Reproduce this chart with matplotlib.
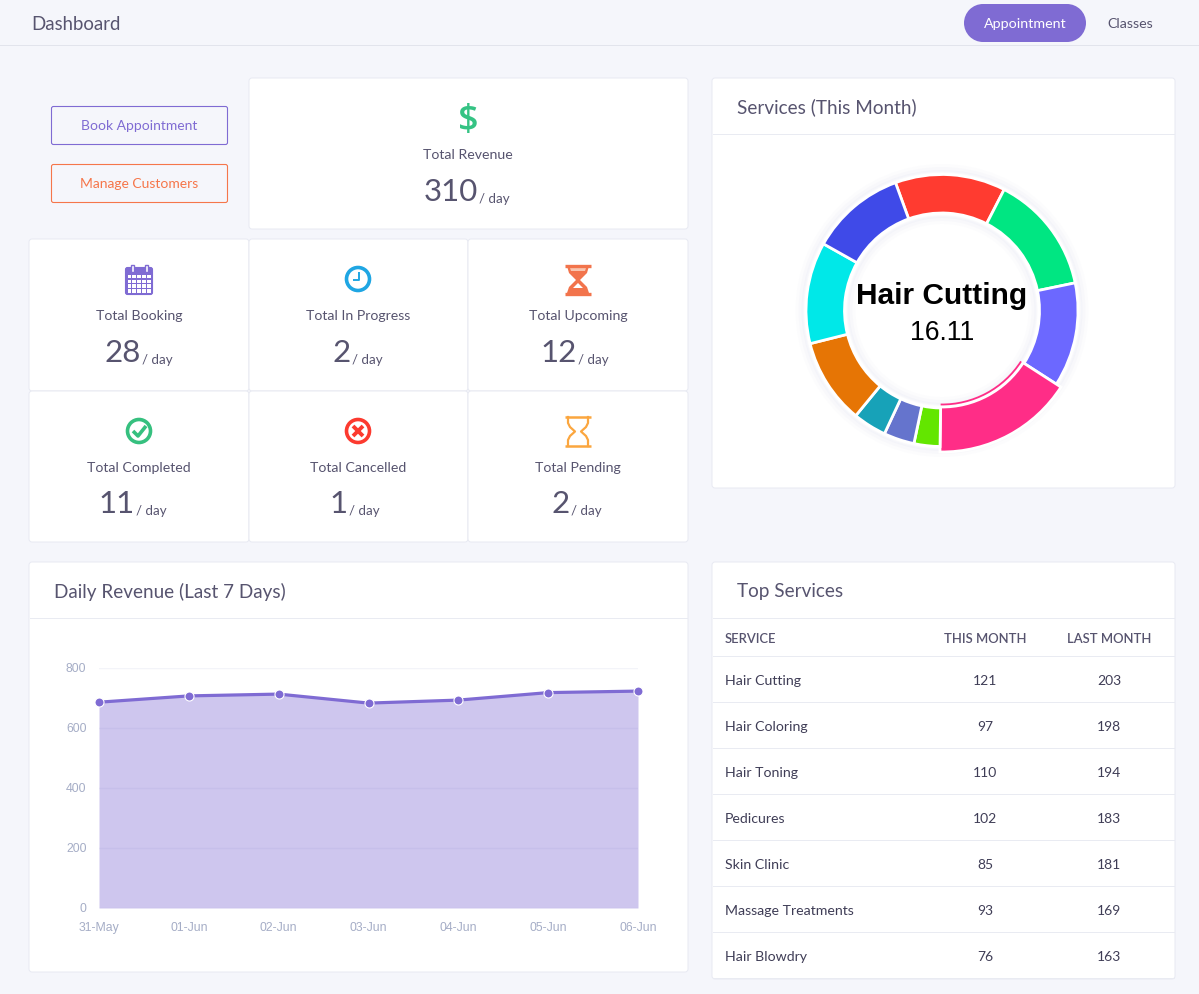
from matplotlib.patches import Arc, Circle, FancyBboxPatch, Polygon, Rectangle
import matplotlib.pyplot as plt

W, H = 1199, 994
FONT = "Lato"
DARK = "#57546f"
PURPLE = "#7f6bd3"
ORANGE = "#f5764a"

# donut
slice_values = [13.1, 14.17, 12.35, 16.11, 3.08, 3.64, 3.97, 10.14, 12.06, 11.28]
slice_colors = ["#ff3b30", "#00e682", "#6c68ff", "#ff2d87", "#63e600",
                "#6574cd", "#17a2b8", "#e67505", "#00e8e8", "#3f4ae8"]
center_name = "Hair Cutting"
center_value = "16.11"

# line chart
days = ["31-May", "01-Jun", "02-Jun", "03-Jun", "04-Jun", "05-Jun", "06-Jun"]
revenue = [686, 707, 713, 683, 693, 718, 723]
revenue_ticks = [0, 200, 400, 600, 800]

# table
services = ["Hair Cutting", "Hair Coloring", "Hair Toning", "Pedicures",
            "Skin Clinic", "Massage Treatments", "Hair Blowdry"]
this_month = [121, 97, 110, 102, 85, 93, 76]
last_month = [203, 198, 194, 183, 181, 169, 163]

# stat cards
stat_labels = ["Total Revenue", "Total Booking", "Total In Progress", "Total Upcoming",
               "Total Completed", "Total Cancelled", "Total Pending"]
stat_values = [310, 28, 2, 12, 11, 1, 2]


def px_axes(fig, left, top, right, bottom):
    return fig.add_axes([left / W, 1 - bottom / H, (right - left) / W, (bottom - top) / H])


def card(ax, x0, y0, x1, y1):
    ax.add_patch(FancyBboxPatch((x0 + 3, y0 + 3), x1 - x0 - 6, y1 - y0 - 6,
                                boxstyle="round,pad=3,rounding_size=3",
                                fc="white", ec="#e8eaf2", lw=0.72))


def button(ax, x0, y0, x1, y1, label, color):
    # half pixel offset keeps the 1px border crisp
    ax.add_patch(FancyBboxPatch((x0 + 2.5, y0 + 2.5), x1 - x0 - 4, y1 - y0 - 4,
                                boxstyle="round,pad=2,rounding_size=2",
                                fc="none", ec=color, lw=0.8))
    ax.text((x0 + x1) / 2, (y0 + y1) / 2 + 1, label, color=color, fontsize=10,
            family=FONT, ha="center", va="center")


def stat(ax, cx, label_y, num_right, base_y, label, value):
    ax.text(cx, label_y, label, color=DARK, fontsize=10.2, family=FONT, ha="center", va="center")
    ax.text(num_right, base_y, str(value), color=DARK, fontsize=22.5, family=FONT,
            ha="right", va="baseline")
    ax.text(num_right + 1, base_y + 2, "/ day", color=DARK, fontsize=9.6, family=FONT,
            ha="left", va="baseline")


def line(ax, xs, ys, color, lw=2.0):
    ax.plot(xs, ys, color=color, lw=lw, solid_capstyle="butt")


def draw_icons(ax):
    # dollar
    ax.text(468, 121, "$", color="#35c384", fontsize=26, family="Open Sans", weight=600,
            ha="center", va="center", parse_math=False)

    # calendar
    ax.add_patch(FancyBboxPatch((126, 268), 26, 26, boxstyle="round,pad=0.5,rounding_size=2",
                                fc=PURPLE, ec=PURPLE, lw=0.8))
    for col in range(5):
        for row in range(4):
            ax.add_patch(Rectangle((127.5 + col * 4.9, 275 + row * 4.7), 3.6, 3.4, fc="white", ec="none"))
    for x in [132, 146]:
        ax.add_patch(Rectangle((x - 1.5, 265), 3, 7, fc="white", ec=PURPLE, lw=1))

    # clock
    ax.add_patch(Circle((358, 279), 11.5, fc="white", ec="#1fa6e3", lw=2.6))
    line(ax, [359, 359, 353], [272, 280, 280], "#1fa6e3", 1.4)

    # hourglass, filled
    c = "#f2744c"
    line(ax, [565, 591], [265.5, 265.5], c, 2.4)
    line(ax, [565, 591], [293.5, 293.5], c, 2.4)
    ax.add_patch(Polygon([(567, 266), (589, 266), (587, 273), (580, 280), (587, 287), (589, 293),
                          (567, 293), (569, 287), (576, 280), (569, 273)], fc=c, ec="none"))
    ax.add_patch(Polygon([(570, 268), (586, 268), (585, 271), (571, 271)], fc="#f9c4ae", ec="none"))
    ax.add_patch(Polygon([(578, 283), (583, 288), (573, 288)], fc="white", ec="none"))

    # check
    ax.add_patch(Circle((139, 431), 11.5, fc="white", ec="#36c07f", lw=2.6))
    line(ax, [133, 138, 146], [431, 436, 426], "#36c07f", 2.6)

    # cross
    ax.add_patch(Circle((358, 431), 11.5, fc="white", ec="#fc3a2f", lw=2.6))
    line(ax, [353, 363], [426, 436], "#fc3a2f", 2.8)
    line(ax, [353, 363], [436, 426], "#fc3a2f", 2.8)

    # hourglass, outline
    c = "#fba63f"
    line(ax, [565, 591], [417, 417], c, 1.8)
    line(ax, [565, 591], [446, 446], c, 1.8)
    ax.plot([568, 568, 570, 575, 570, 568, 568], [417, 423, 427, 431.5, 436, 440, 446], color=c, lw=1.6)
    ax.plot([588, 588, 586, 581, 586, 588, 588], [417, 423, 427, 431.5, 436, 440, 446], color=c, lw=1.6)


def draw_page(fig):
    ax = fig.add_axes([0, 0, 1, 1])
    ax.set_xlim(0, W)
    ax.set_ylim(H, 0)
    ax.axis("off")

    # header
    ax.plot([0, W], [45, 45], color="#e2e4ec", lw=0.72)
    ax.text(31, 24, "Dashboard", color=DARK, fontsize=13.4, family=FONT, va="center")
    ax.add_patch(Rectangle((983, 4), 84, 38, fc=PURPLE, ec="none"))
    ax.add_patch(Circle((983, 23), 19, fc=PURPLE, ec="none"))
    ax.add_patch(Circle((1067, 23), 19, fc=PURPLE, ec="none"))
    ax.text(1025, 24, "Appointment", color="white", fontsize=10.3, family=FONT, ha="center", va="center")
    ax.text(1130, 24, "Classes", color=DARK, fontsize=10.3, family=FONT, ha="center", va="center")

    button(ax, 51, 106, 227, 144, "Book Appointment", PURPLE)
    button(ax, 51, 164, 227, 202, "Manage Customers", ORANGE)

    # stat cards
    card(ax, 249, 78, 688, 229)
    for x0, x1 in [(29, 249), (249, 468), (468, 688)]:
        card(ax, x0, 239, x1, 391)
        card(ax, x0, 391, x1, 542)

    centers = [468, 139, 358, 578, 139, 358, 578]
    label_ys = [155, 316, 316, 316, 468, 468, 468]
    num_rights = [478, 141, 351, 577, 135, 348, 570]
    base_ys = [201, 362, 362, 362, 513, 513, 513]
    for i, label in enumerate(stat_labels):
        stat(ax, centers[i], label_ys[i], num_rights[i], base_ys[i], label, stat_values[i])
    draw_icons(ax)

    # big cards
    card(ax, 712, 78, 1175, 488)
    ax.plot([713, 1174], [134, 134], color="#e9ebf2", lw=0.72)
    ax.text(737, 107, "Services (This Month)", color=DARK, fontsize=13.6, family=FONT, va="center")

    card(ax, 29, 562, 688, 972)
    ax.plot([30, 687], [618, 618], color="#e9ebf2", lw=0.72)
    ax.text(54, 591.5, "Daily Revenue (Last 7 Days)", color=DARK, fontsize=13.6, family=FONT, va="center")

    card(ax, 712, 562, 1175, 979)
    ax.plot([713, 1174], [618, 618], color="#e9ebf2", lw=0.72)
    ax.text(737, 591.5, "Top Services", color=DARK, fontsize=13.6, family=FONT, va="center")

    # table
    ax.text(725, 639, "SERVICE", color=DARK, fontsize=9.4, family=FONT, weight=600, va="center")
    ax.text(985, 639, "THIS MONTH", color=DARK, fontsize=9.4, family=FONT, weight=600, ha="center", va="center")
    ax.text(1109, 639, "LAST MONTH", color=DARK, fontsize=9.4, family=FONT, weight=600, ha="center", va="center")
    ax.plot([713, 1174], [656, 656], color="#e9ebf2", lw=0.72)
    for i, name in enumerate(services):
        y = 680 + i * 46
        ax.text(725, y + 1, name, color="#3f3d56", fontsize=10.2, family=FONT, va="center")
        ax.text(985, y + 1, str(this_month[i]), color="#3f3d56", fontsize=10, family=FONT, ha="center", va="center")
        ax.text(1109, y + 1, str(last_month[i]), color="#3f3d56", fontsize=10, family=FONT, ha="center", va="center")
        ax.plot([713, 1174], [y + 22, y + 22], color="#e9ebf2", lw=0.72)


def draw_donut(fig):
    cx, cy = 942, 310.5
    ax = px_axes(fig, cx - 160, cy - 160, cx + 160, cy + 160)
    ax.patch.set_alpha(0)

    # soft shadow around the ring
    for extra, alpha in [(7, 0.05), (5, 0.07), (3, 0.09)]:
        ax.add_patch(Circle((0, 0), 136 + extra, fc="none", ec="#c9cde6", lw=extra * 0.72, alpha=alpha))
        ax.add_patch(Circle((0, 0), 97 - extra, fc="none", ec="#c9cde6", lw=extra * 0.72, alpha=alpha))

    wedges, _ = ax.pie(slice_values, colors=slice_colors, radius=136, startangle=110,
                       counterclock=False, normalize=True,
                       wedgeprops={"width": 38.5, "edgecolor": "white", "linewidth": 2})
    # hovered slice
    big = wedges[3]
    big.set_radius(141.5)
    big.set_width(45)
    ax.add_patch(Arc((0, 0), 188, 188, theta1=big.theta1, theta2=big.theta2,
                     color=slice_colors[3], lw=1.3))

    ax.set_xlim(-160, 160)
    ax.set_ylim(-160, 160)
    ax.text(0, 18, center_name, color="black", fontsize=21.5, family="Liberation Sans",
            weight="bold", ha="center", va="center_baseline")
    ax.text(0, -19.5, center_value, color="black", fontsize=19.2, family="Liberation Sans",
            ha="center", va="center_baseline")


def draw_revenue(fig):
    ax = px_axes(fig, 99, 668, 638, 908)
    ax.patch.set_alpha(0)
    x = list(range(len(days)))
    ax.fill_between(x, revenue, color=PURPLE, alpha=0.38, lw=0, zorder=3)
    ax.plot(x, revenue, color=PURPLE, lw=2.3, marker="o", ms=6.5, mfc=PURPLE, mec="white",
            mew=0.8, clip_on=False, zorder=4)
    ax.set_xlim(0, len(days) - 1)
    ax.set_ylim(0, 800)
    ax.set_xticks(x, days)
    ax.set_yticks(revenue_ticks)
    ax.grid(axis="y", color="#f3f4f9", lw=1, zorder=0)
    ax.set_axisbelow(True)
    ax.tick_params(length=0, labelcolor="#a5adc6", labelsize=8.8)
    ax.tick_params(axis="x", pad=10)
    ax.tick_params(axis="y", pad=9)
    for tick in ax.get_xticklabels() + ax.get_yticklabels():
        tick.set_fontfamily("Liberation Sans")
    for spine in ax.spines.values():
        spine.set_visible(False)


def main():
    fig = plt.figure(figsize=(W / 100, H / 100), dpi=100, facecolor="#f5f6fb")
    draw_page(fig)
    draw_donut(fig)
    draw_revenue(fig)
    fig.savefig("out.png", dpi=100, facecolor=fig.get_facecolor())
    plt.close(fig)


if __name__ == "__main__":
    main()
